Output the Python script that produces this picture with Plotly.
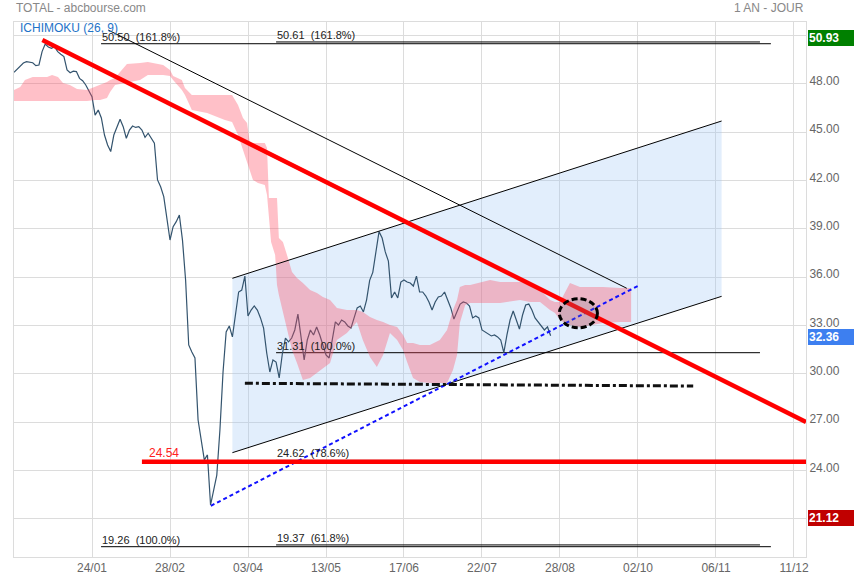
import plotly.graph_objects as go

# ---------------- data ----------------
TICK_POS = [0, 25, 50, 75, 100, 125, 150, 175, 200, 225]
TICK_LABELS = ["24/01", "28/02", "03/04", "13/05", "17/06", "22/07", "28/08", "02/10", "06/11", "11/12"]
Y_TICKS = [21, 24, 27, 30, 33, 36, 39, 42, 45, 48, 51]
Y_TICK_LABELS = ["", "24.00", "27.00", "30.00", "33.00", "36.00", "39.00", "42.00", "45.00", "48.00", ""]

DAY_INDEX = list(range(-25, 148))
PRICE = [
    48.73, 48.91, 49.10, 49.30, 49.39, 49.35, 49.32, 49.14, 49.18, 50.01,
    50.48, 50.30, 50.22, 50.32, 50.01, 49.85, 49.70, 48.87, 48.70, 48.80,
    48.77, 48.35, 48.20, 47.94, 47.52,
    47.21, 46.07, 46.38, 45.89, 44.83, 44.21, 43.80, 44.83, 45.30, 45.81,
    45.35, 44.63, 45.14, 45.39, 45.30, 45.35, 45.14, 44.69, 44.94, 44.60,
    44.32, 42.04, 41.62, 41.00, 39.76, 38.31, 39.14, 39.45, 39.86, 38.30,
    35.83, 31.79, 31.35, 30.98, 27.13, 26.01, 24.65, 24.96, 21.85, 22.78,
    23.71, 26.51, 30.11, 32.60, 32.97, 32.29, 33.65, 35.08, 35.20, 36.07,
    33.59, 33.96, 34.21, 33.96, 33.47, 32.84, 31.29, 30.11, 30.86, 30.73,
    29.74, 31.23, 32.22, 31.98, 32.22, 32.72, 33.71, 32.35, 30.86, 32.10,
    32.72, 32.41, 32.91, 32.41, 31.79, 31.17, 30.98, 32.10, 33.22, 33.03,
    33.34, 33.22, 32.97, 32.84, 33.47, 34.09, 34.21, 33.84, 34.58, 35.80,
    36.30, 37.60, 38.83, 38.43, 37.57, 37.00, 34.71, 35.08, 34.71, 35.70,
    35.83, 35.70, 35.64, 35.45, 36.07, 35.08, 35.08, 34.83, 34.46, 33.96,
    34.46, 34.77, 34.83, 35.08, 34.58, 34.09, 33.40, 33.84, 34.33, 34.46,
    34.40, 34.21, 33.47, 33.59, 33.47, 32.72, 32.60, 32.47, 32.35, 32.41,
    32.29, 32.10, 31.31, 32.41, 33.34, 33.90, 33.34, 32.78, 33.65, 34.27,
    34.33, 33.96, 33.47, 33.22, 33.03, 32.72, 32.91, 32.36,
]

KUMO_X = [
    -25, -23, -21.5, -19, -14.4, -12.8, -10.9, -9.3, -7.1, -4.8, -1.6, 1.0, 2.6,
    4.8, 5.8, 7.4, 9.0, 11.2, 15.4, 17.9, 22.8, 25.0, 26.0, 28.8, 29.8, 32.0,
    36.9, 42.6, 44.9, 46.8, 48.4, 49.7, 50.6, 51.6, 53.2, 55.4, 56.1, 56.7,
    57.4, 58.7, 59.3, 59.9, 61.2, 62.8, 64.1, 65.7, 67.6, 69.9, 72.1, 74.0,
    76.3, 78.5, 81.7, 84.9, 86.8, 89.1, 91.3, 93.3, 95.5, 97.8, 99.7, 101.0,
    102.9, 105.1, 108.3, 111.5, 113.8, 115.7, 117.0, 117.9, 119.6, 121.2,
    127.6, 130.8, 137.2, 140.4, 143.6, 146.8, 148.4, 150.0, 151.6, 153.2,
    156.4, 163.8, 169.2, 172.8,
]
KUMO_TOP = [
    47.63, 47.81, 48.25, 48.43, 48.43, 48.56, 48.43, 48.06, 47.94, 47.69, 47.63,
    47.81, 47.94, 48.12, 48.25, 48.37, 48.75, 49.24, 49.30, 49.37, 49.18, 48.87,
    48.50, 48.25, 47.75, 47.32, 47.32, 47.32, 47.32, 46.70, 45.89, 45.58, 44.34,
    44.34, 44.34, 44.34, 44.02, 40.92, 40.92, 40.92, 40.92, 38.43, 38.19, 37.19,
    36.32, 35.95, 35.64, 35.20, 35.02, 34.77, 34.58, 34.09, 33.96, 33.96, 33.84,
    33.53, 33.34, 33.22, 33.03, 32.91, 32.41, 31.91, 31.91, 31.79, 31.79, 32.10,
    32.72, 33.96, 34.58, 35.39, 35.52, 35.52, 35.83, 35.70, 35.70, 35.64, 35.20,
    34.58, 34.46, 34.46, 35.08, 35.64, 35.39, 35.39, 35.33, 35.33,
]
KUMO_BOTTOM = [
    46.94, 46.94, 46.94, 46.94, 46.94, 46.94, 46.94, 46.94, 46.94, 46.94, 46.94,
    47.01, 47.01, 47.13, 47.50, 47.94, 48.00, 48.06, 48.25, 48.56, 48.56, 48.50,
    48.25, 47.63, 47.32, 46.39, 46.20, 45.76, 45.64, 44.83, 43.90, 43.09, 42.66,
    42.04, 41.85, 41.73, 41.11, 39.55, 38.19, 37.38, 35.52, 34.89, 33.78, 32.41,
    31.48, 30.67, 29.61, 29.74, 30.05, 30.36, 30.67, 32.10, 32.53, 33.22, 32.10,
    31.04, 30.42, 31.17, 32.53, 32.10, 31.48, 30.73, 29.74, 29.49, 29.43, 29.43,
    29.43, 30.24, 31.17, 33.16, 34.27, 34.40, 34.40, 34.40, 34.58, 34.46, 34.46,
    33.96, 33.78, 33.34, 33.16, 33.03, 32.91, 33.16, 33.22, 33.22,
]

RED_TREND_X = [-15.9, 228.85]
RED_TREND_Y = [50.73, 27.0]
RED_SUPPORT_X = [16.0, 228.85]
RED_SUPPORT_Y = [24.54, 24.54]
BLACK_DOWN_X = [5.2, 171.4]
BLACK_DOWN_Y = [51.35, 35.31]
CHANNEL_X = [45.0, 201.8]
CHANNEL_UP_Y = [35.93, 45.70]
CHANNEL_LOW_Y = [25.10, 34.81]
BLUE_SUPPORT_X = [38.1, 175.6]
BLUE_SUPPORT_Y = [21.80, 35.52]
DASHDOT_X = [49.0, 192.7]
DASHDOT_Y = [29.41, 29.24]

FIB_A_X = [2.9, 217.6]
FIB_A_LEVELS = [50.50, 19.26]
FIB_A_PCT = ["161.8%", "100.0%"]
FIB_B_X = [59.0, 214.1]
FIB_B_LEVELS = [50.61, 31.31, 24.62, 19.37]
FIB_B_PCT = ["161.8%", "100.0%", "78.6%", "61.8%"]

ELLIPSE_CENTER = (155.9, 33.76)
ELLIPSE_RADIUS = (6.1, 0.9)

HIGH_VALUE = 50.93
LAST_VALUE = 32.36
LOW_VALUE = 21.12

FONT = "Liberation Sans, Arial, sans-serif"

# ---------------- figure ----------------
fig = go.Figure()

# channel fill
fig.add_trace(go.Scatter(
    x=[CHANNEL_X[0], CHANNEL_X[1], CHANNEL_X[1], CHANNEL_X[0]],
    y=[CHANNEL_UP_Y[0], CHANNEL_UP_Y[1], CHANNEL_LOW_Y[1], CHANNEL_LOW_Y[0]],
    fill="toself", fillcolor="rgba(160,200,245,0.30)", line=dict(width=0),
    mode="lines", hoverinfo="skip"))

# fibonacci lines
for lv in FIB_A_LEVELS:
    fig.add_trace(go.Scatter(x=FIB_A_X, y=[lv, lv], mode="lines",
                             line=dict(color="black", width=1), hoverinfo="skip"))
for lv in FIB_B_LEVELS:
    fig.add_trace(go.Scatter(x=FIB_B_X, y=[lv, lv], mode="lines",
                             line=dict(color="black", width=1), hoverinfo="skip"))

# price
fig.add_trace(go.Scatter(x=DAY_INDEX, y=PRICE, mode="lines",
                         line=dict(color="#34546e", width=1.2)))

# ichimoku cloud
fig.add_trace(go.Scatter(x=KUMO_X, y=KUMO_BOTTOM, mode="lines",
                         line=dict(width=0), hoverinfo="skip"))
fig.add_trace(go.Scatter(x=KUMO_X, y=KUMO_TOP, mode="lines", fill="tonexty",
                         fillcolor="rgba(255,70,95,0.34)", line=dict(width=0),
                         hoverinfo="skip"))

# trend lines
fig.add_trace(go.Scatter(x=BLACK_DOWN_X, y=BLACK_DOWN_Y, mode="lines",
                         line=dict(color="black", width=1)))
fig.add_trace(go.Scatter(x=CHANNEL_X, y=CHANNEL_UP_Y, mode="lines",
                         line=dict(color="black", width=1)))
fig.add_trace(go.Scatter(x=CHANNEL_X, y=CHANNEL_LOW_Y, mode="lines",
                         line=dict(color="black", width=1)))
fig.add_trace(go.Scatter(x=BLUE_SUPPORT_X, y=BLUE_SUPPORT_Y, mode="lines",
                         line=dict(color="#1010ff", width=2, dash="4px,3px")))
fig.add_trace(go.Scatter(x=DASHDOT_X, y=DASHDOT_Y, mode="lines",
                         line=dict(color="#111111", width=3, dash="8px,3px,3px,3px")))
fig.add_trace(go.Scatter(x=RED_SUPPORT_X, y=RED_SUPPORT_Y, mode="lines",
                         line=dict(color="#ff0000", width=4.5)))
fig.add_trace(go.Scatter(x=RED_TREND_X, y=RED_TREND_Y, mode="lines",
                         line=dict(color="#ff0000", width=4.5)))

# ellipse
cx, cy = ELLIPSE_CENTER
rx, ry = ELLIPSE_RADIUS
fig.add_shape(type="circle", xref="x", yref="y",
              x0=cx - rx, x1=cx + rx, y0=cy - ry, y1=cy + ry,
              line=dict(color="black", width=3, dash="6px,3px"),
              fillcolor="rgba(120,130,140,0.22)", layer="above")

annotations = []
for lv, pct in zip(FIB_A_LEVELS, FIB_A_PCT):
    annotations.append(dict(x=FIB_A_X[0], y=lv, xref="x", yref="y",
                            text=f"{lv:.2f} \u00a0({pct})", showarrow=False,
                            xanchor="left", yanchor="bottom", borderpad=0,
                            font=dict(size=11, color="#222", family=FONT)))
for lv, pct in zip(FIB_B_LEVELS, FIB_B_PCT):
    annotations.append(dict(x=FIB_B_X[0], y=lv, xref="x", yref="y",
                            text=f"{lv:.2f} \u00a0({pct})", showarrow=False,
                            xanchor="left", yanchor="bottom", borderpad=0,
                            font=dict(size=11, color="#222", family=FONT)))
annotations.append(dict(x=RED_SUPPORT_X[0] + 1.5, y=RED_SUPPORT_Y[0], xref="x", yref="y",
                        text=f"{RED_SUPPORT_Y[0]:.2f}", showarrow=False,
                        xanchor="left", yanchor="bottom", borderpad=1,
                        font=dict(size=12, color="#ff2020", family=FONT)))

for val, col in [(HIGH_VALUE, "#008000"), (LAST_VALUE, "#3d7ff0"), (LOW_VALUE, "#c00000")]:
    annotations.append(dict(x=1.0025, y=val, xref="paper", yref="y", yshift=-1.5,
                            text=f"<b>{val:.2f}</b>", showarrow=False,
                            xanchor="left", yanchor="middle", align="left",
                            width=44, height=14, borderpad=1, borderwidth=0,
                            bgcolor=col,
                            font=dict(size=12, color="white", family=FONT)))

annotations.append(dict(x=0, y=1.026, xref="paper", yref="paper",
                        text="TOTAL - abcbourse.com", showarrow=False,
                        xanchor="left", yanchor="middle",
                        font=dict(size=12, color="#888", family=FONT)))
annotations.append(dict(x=1.0, y=1.026, xref="paper", yref="paper",
                        text="1 AN - JOUR", showarrow=False,
                        xanchor="right", yanchor="middle",
                        font=dict(size=12, color="#888", family=FONT)))
annotations.append(dict(x=0.005, y=0.988, xref="paper", yref="paper",
                        text="ICHIMOKU (26, 9)", showarrow=False,
                        xanchor="left", yanchor="middle",
                        font=dict(size=12, color="#1e73c8", family=FONT)))

fig.update_layout(
    width=855, height=580,
    margin=dict(l=14, r=49, t=22, b=23, autoexpand=False),
    paper_bgcolor="white", plot_bgcolor="white",
    showlegend=False,
    annotations=annotations,
    font=dict(family=FONT, size=12, color="#666"),
    xaxis=dict(range=[-25, 228.85], tickvals=TICK_POS, ticktext=TICK_LABELS,
               showgrid=True, gridcolor="#dcdcdc", gridwidth=1, automargin=False,
               zeroline=False, showline=True, linecolor="#dcdcdc", mirror=True,
               ticks="", tickfont=dict(size=12, color="#666", family=FONT)),
    yaxis=dict(range=[18.62, 51.85], side="right", tickvals=Y_TICKS,
               ticktext=Y_TICK_LABELS, automargin=False, ticklabelshift=-3,
               showgrid=True, gridcolor="#dcdcdc", gridwidth=1,
               zeroline=False, showline=True, linecolor="#dcdcdc", mirror=True,
               ticks="", tickfont=dict(size=12, color="#666", family=FONT)),
)

fig.write_html("out.html", config={"displayModeBar": False},
               post_script="document.body.style.margin='0';")
